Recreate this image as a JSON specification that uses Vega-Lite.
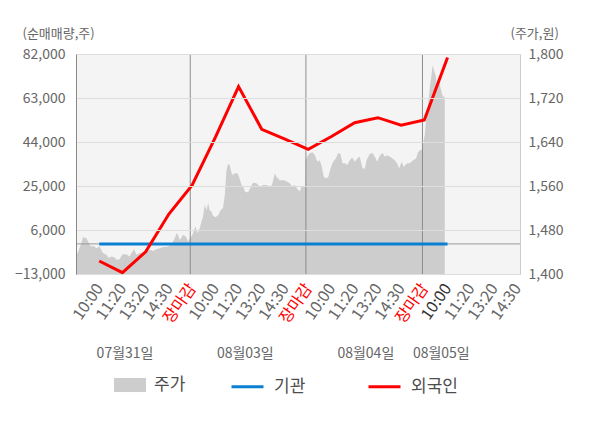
{
  "$schema": "https://vega.github.io/schema/vega-lite/v6.json",
  "width": 444,
  "height": 220,
  "autosize": {"type": "none"},
  "padding": {"left": 76, "top": 54, "right": 80, "bottom": 154},
  "background": "white",
  "config": {
    "font": "Noto Sans CJK KR",
    "view": {"fill": "#f4f4f4", "stroke": null}
  },
  "datasets": {
    "price": [
      {"t": 0, "price": 1435}, {"t": 0.07, "price": 1438}, {"t": 0.23, "price": 1456}, {"t": 0.3, "price": 1467},
      {"t": 0.45, "price": 1465}, {"t": 0.52, "price": 1459}, {"t": 0.59, "price": 1453}, {"t": 0.66, "price": 1450},
      {"t": 0.76, "price": 1451}, {"t": 0.88, "price": 1447}, {"t": 1.02, "price": 1450}, {"t": 1.16, "price": 1438},
      {"t": 1.31, "price": 1435}, {"t": 1.42, "price": 1429}, {"t": 1.53, "price": 1432}, {"t": 1.67, "price": 1430},
      {"t": 1.74, "price": 1426}, {"t": 1.88, "price": 1427}, {"t": 2.0, "price": 1436}, {"t": 2.17, "price": 1436},
      {"t": 2.31, "price": 1432}, {"t": 2.39, "price": 1438}, {"t": 2.5, "price": 1445}, {"t": 2.6, "price": 1435},
      {"t": 2.74, "price": 1438}, {"t": 2.89, "price": 1439}, {"t": 3.03, "price": 1441}, {"t": 3.18, "price": 1444},
      {"t": 3.32, "price": 1442}, {"t": 3.46, "price": 1445}, {"t": 3.61, "price": 1447}, {"t": 3.75, "price": 1449},
      {"t": 3.96, "price": 1450}, {"t": 4.11, "price": 1453}, {"t": 4.25, "price": 1465}, {"t": 4.35, "price": 1475},
      {"t": 4.47, "price": 1462}, {"t": 4.61, "price": 1471}, {"t": 4.73, "price": 1468}, {"t": 4.83, "price": 1459},
      {"t": 4.9, "price": 1465},
      {"t": 4.97, "price": 1468}, {"t": 5.04, "price": 1474}, {"t": 5.14, "price": 1487}, {"t": 5.23, "price": 1474},
      {"t": 5.33, "price": 1483}, {"t": 5.4, "price": 1495}, {"t": 5.47, "price": 1504}, {"t": 5.54, "price": 1526},
      {"t": 5.62, "price": 1516}, {"t": 5.69, "price": 1529}, {"t": 5.76, "price": 1516}, {"t": 5.83, "price": 1513},
      {"t": 5.9, "price": 1506}, {"t": 6.01, "price": 1503}, {"t": 6.12, "price": 1507}, {"t": 6.23, "price": 1516},
      {"t": 6.33, "price": 1520}, {"t": 6.41, "price": 1544}, {"t": 6.48, "price": 1589}, {"t": 6.55, "price": 1600},
      {"t": 6.62, "price": 1598}, {"t": 6.7, "price": 1583}, {"t": 6.76, "price": 1580}, {"t": 6.84, "price": 1583},
      {"t": 6.95, "price": 1583}, {"t": 7.02, "price": 1577}, {"t": 7.13, "price": 1562}, {"t": 7.2, "price": 1559},
      {"t": 7.27, "price": 1550}, {"t": 7.41, "price": 1548}, {"t": 7.53, "price": 1559}, {"t": 7.63, "price": 1566},
      {"t": 7.77, "price": 1565}, {"t": 7.91, "price": 1559}, {"t": 8.06, "price": 1562}, {"t": 8.2, "price": 1562},
      {"t": 8.35, "price": 1559}, {"t": 8.44, "price": 1562}, {"t": 8.56, "price": 1583}, {"t": 8.63, "price": 1577},
      {"t": 8.78, "price": 1570}, {"t": 8.92, "price": 1571}, {"t": 9.07, "price": 1568}, {"t": 9.21, "price": 1565},
      {"t": 9.31, "price": 1559}, {"t": 9.42, "price": 1562}, {"t": 9.54, "price": 1554}, {"t": 9.64, "price": 1550},
      {"t": 9.71, "price": 1559}, {"t": 9.78, "price": 1559}, {"t": 9.86, "price": 1559},
      {"t": 9.89, "price": 1607}, {"t": 9.95, "price": 1613}, {"t": 10.07, "price": 1620}, {"t": 10.19, "price": 1621},
      {"t": 10.29, "price": 1616}, {"t": 10.36, "price": 1607}, {"t": 10.43, "price": 1604}, {"t": 10.5, "price": 1607},
      {"t": 10.58, "price": 1596}, {"t": 10.67, "price": 1577}, {"t": 10.76, "price": 1574}, {"t": 10.86, "price": 1576},
      {"t": 10.96, "price": 1592}, {"t": 11.07, "price": 1604}, {"t": 11.19, "price": 1610}, {"t": 11.29, "price": 1620},
      {"t": 11.39, "price": 1618}, {"t": 11.48, "price": 1601}, {"t": 11.57, "price": 1602}, {"t": 11.68, "price": 1598},
      {"t": 11.79, "price": 1607}, {"t": 11.89, "price": 1612}, {"t": 12.01, "price": 1604}, {"t": 12.11, "price": 1610},
      {"t": 12.22, "price": 1613}, {"t": 12.34, "price": 1592}, {"t": 12.44, "price": 1592}, {"t": 12.51, "price": 1607},
      {"t": 12.65, "price": 1618}, {"t": 12.77, "price": 1620}, {"t": 12.87, "price": 1613}, {"t": 12.97, "price": 1604},
      {"t": 13.09, "price": 1616}, {"t": 13.2, "price": 1620}, {"t": 13.3, "price": 1613}, {"t": 13.4, "price": 1616},
      {"t": 13.52, "price": 1613}, {"t": 13.63, "price": 1610}, {"t": 13.73, "price": 1607}, {"t": 13.83, "price": 1601},
      {"t": 13.92, "price": 1592}, {"t": 14.02, "price": 1604}, {"t": 14.12, "price": 1595}, {"t": 14.24, "price": 1601},
      {"t": 14.38, "price": 1602}, {"t": 14.52, "price": 1607}, {"t": 14.64, "price": 1610}, {"t": 14.73, "price": 1622},
      {"t": 14.84, "price": 1626}, {"t": 14.92, "price": 1626},
      {"t": 14.95, "price": 1638}, {"t": 15.02, "price": 1653}, {"t": 15.1, "price": 1689}, {"t": 15.17, "price": 1710},
      {"t": 15.24, "price": 1741}, {"t": 15.31, "price": 1762}, {"t": 15.36, "price": 1780}, {"t": 15.41, "price": 1771},
      {"t": 15.48, "price": 1762}, {"t": 15.55, "price": 1741}, {"t": 15.63, "price": 1750}, {"t": 15.7, "price": 1738},
      {"t": 15.77, "price": 1726}, {"t": 15.84, "price": 1722}, {"t": 15.88, "price": 1722}
    ],
    "flow": [
      {"t": 1, "series": "기관", "v": 0}, {"t": 2, "series": "기관", "v": 0}, {"t": 3, "series": "기관", "v": 0},
      {"t": 4, "series": "기관", "v": 0}, {"t": 5, "series": "기관", "v": 0}, {"t": 6, "series": "기관", "v": 0},
      {"t": 7, "series": "기관", "v": 0}, {"t": 8, "series": "기관", "v": 0}, {"t": 9, "series": "기관", "v": 0},
      {"t": 10, "series": "기관", "v": 0}, {"t": 11, "series": "기관", "v": 0}, {"t": 12, "series": "기관", "v": 0},
      {"t": 13, "series": "기관", "v": 0}, {"t": 14, "series": "기관", "v": 0}, {"t": 15, "series": "기관", "v": 0},
      {"t": 16, "series": "기관", "v": 0},
      {"t": 1, "series": "외국인", "v": -7400}, {"t": 2, "series": "외국인", "v": -12400}, {"t": 3, "series": "외국인", "v": -3400},
      {"t": 4, "series": "외국인", "v": 12900}, {"t": 5, "series": "외국인", "v": 25400}, {"t": 6, "series": "외국인", "v": 46000},
      {"t": 7, "series": "외국인", "v": 67900}, {"t": 8, "series": "외국인", "v": 49500}, {"t": 9, "series": "외국인", "v": 45200},
      {"t": 10, "series": "외국인", "v": 40800}, {"t": 11, "series": "외국인", "v": 46400}, {"t": 12, "series": "외국인", "v": 52300},
      {"t": 13, "series": "외국인", "v": 54500}, {"t": 14, "series": "외국인", "v": 51300}, {"t": 15, "series": "외국인", "v": 53500},
      {"t": 16, "series": "외국인", "v": 80500}
    ],
    "sep": [{"t": 4.92}, {"t": 9.9}, {"t": 14.92}]
  },
  "layer": [
    {
      "data": {"name": "price"},
      "mark": {"type": "area", "color": "#cdcdcd", "clip": true},
      "encoding": {
        "x": {
          "field": "t",
          "type": "quantitative",
          "scale": {"domain": [0, 19.12], "nice": false, "zero": false},
          "axis": {
            "orient": "bottom",
            "values": [2.09, 7.27, 12.46, 15.71],
            "labelExpr": "datum.value < 5 ? '07월31일' : datum.value < 10 ? '08월03일' : datum.value < 15 ? '08월04일' : '08월05일'",
            "domain": false,
            "ticks": false,
            "tickSize": 0,
            "grid": false,
            "labelPadding": 79,
            "labelBaseline": "middle",
            "labelAngle": 0,
            "labelAlign": "center",
            "labelFontSize": 14,
            "labelColor": "#666666",
            "labelFlush": false,
            "labelOverlap": false,
            "title": null
          }
        },
        "y": {
          "field": "price",
          "type": "quantitative",
          "scale": {"domain": [1400, 1800], "nice": false, "zero": false},
          "axis": {
            "orient": "right",
            "values": [1400, 1480, 1560, 1640, 1720, 1800],
            "format": ",d",
            "grid": false,
            "domainColor": "#cccccc",
            "ticks": false,
            "tickSize": 0,
            "labelPadding": 8,
            "labelFontSize": 14,
            "labelColor": "#666666",
            "title": "(주가,원)",
            "titleAngle": 0,
            "titleAlign": "left",
            "titleBaseline": "middle",
            "titleX": -10,
            "titleY": -21,
            "titleFontSize": 13,
            "titleFontWeight": "normal",
            "titleColor": "#666666"
          }
        },
        "y2": {"datum": 1400},
        "fill": {
          "datum": "주가",
          "type": "nominal",
          "scale": {"range": ["#cdcdcd"]},
          "legend": {
            "orient": "none",
            "legendX": 38,
            "legendY": 315,
            "title": null,
            "symbolType": "M-1,-0.44H1V0.44H-1Z",
            "symbolSize": 1024,
            "symbolStrokeWidth": 0,
            "symbolOpacity": 1,
            "labelFontSize": 17,
            "labelColor": "#4d4d4d",
            "labelOffset": 8
          }
        }
      }
    },
    {
      "layer": [
        {
          "data": {"name": "sep"},
          "mark": {"type": "rule", "color": "#8c8c8c", "strokeWidth": 1},
          "encoding": {
            "x": {
              "field": "t",
              "type": "quantitative",
              "scale": {"domain": [0, 19.12], "nice": false, "zero": false},
              "axis": {
                "orient": "bottom",
                "values": [1, 2, 3, 4, 5, 6, 7, 8, 9, 10, 11, 12, 13, 14, 15, 16, 17, 18, 19],
                "labelExpr": "['10:00', '11:20', '13:20', '14:30', '장마감'][(datum.value - 1) % 5]",
                "labelAngle": -55,
                "labelFontSize": 16,
                "labelColor": {
                  "condition": [
                    {"test": "datum.value % 5 === 0", "value": "#ff0000"},
                    {"test": "datum.value === 16", "value": "#333333"}
                  ],
                  "value": "#666666"
                },
                "labelPadding": 11,
                "domainColor": "#888888",
                "ticks": false,
                "tickSize": 0,
                "grid": false,
                "labelFlush": false,
                "labelOverlap": false,
                "labelBound": false,
                "title": null
              }
            }
          }
        },
        {
          "data": {"values": [{"v": 0}]},
          "mark": {"type": "rule", "color": "#9a9a9a", "strokeWidth": 1},
          "encoding": {
            "y": {"field": "v", "type": "quantitative", "scale": {"domain": [-13000, 82000], "nice": false, "zero": false}}
          }
        },
        {
          "data": {"name": "flow"},
          "mark": {"type": "line", "strokeWidth": 3},
          "encoding": {
            "x": {
              "field": "t",
              "type": "quantitative",
              "scale": {"domain": [0, 19.12], "nice": false, "zero": false},
              "axis": {
                "orient": "bottom",
                "values": [1, 2, 3, 4, 5, 6, 7, 8, 9, 10, 11, 12, 13, 14, 15, 16, 17, 18, 19],
                "labelExpr": "['10:00', '11:20', '13:20', '14:30', '장마감'][(datum.value - 1) % 5]",
                "labelAngle": -55,
                "labelFontSize": 16,
                "labelColor": {
                  "condition": [
                    {"test": "datum.value % 5 === 0", "value": "#ff0000"},
                    {"test": "datum.value === 16", "value": "#333333"}
                  ],
                  "value": "#666666"
                },
                "labelPadding": 11,
                "domainColor": "#888888",
                "ticks": false,
                "tickSize": 0,
                "grid": false,
                "labelFlush": false,
                "labelOverlap": false,
                "labelBound": false,
                "title": null
              }
            },
            "y": {
              "field": "v",
              "type": "quantitative",
              "scale": {"domain": [-13000, 82000], "nice": false, "zero": false},
              "axis": {
                "orient": "left",
                "values": [-13000, 6000, 25000, 44000, 63000, 82000],
                "format": ",d",
                "grid": true,
                "gridColor": "#dddddd",
                "domainColor": "#888888",
                "ticks": false,
                "tickSize": 0,
                "labelPadding": 11,
                "labelFontSize": 14,
                "labelColor": "#666666",
                "title": "(순매매량,주)",
                "titleAngle": 0,
                "titleAlign": "left",
                "titleBaseline": "middle",
                "titleX": -54,
                "titleY": -21,
                "titleFontSize": 13,
                "titleFontWeight": "normal",
                "titleColor": "#666666",
                "zindex": 1
              }
            },
            "stroke": {
              "field": "series",
              "type": "nominal",
              "scale": {"domain": ["기관", "외국인"], "range": ["#0b80d2", "#ff0000"]},
              "legend": {
                "orient": "none",
                "legendX": 154,
                "legendY": 315,
                "direction": "horizontal",
                "title": null,
                "symbolType": "stroke",
                "symbolSize": 1024,
                "symbolStrokeWidth": 3,
                "labelFontSize": 17,
                "labelColor": "#4d4d4d",
                "labelOffset": 9,
                "columnPadding": 56
              }
            }
          }
        }
      ]
    }
  ],
  "resolve": {"scale": {"y": "independent"}, "axis": {"x": "independent"}}
}
